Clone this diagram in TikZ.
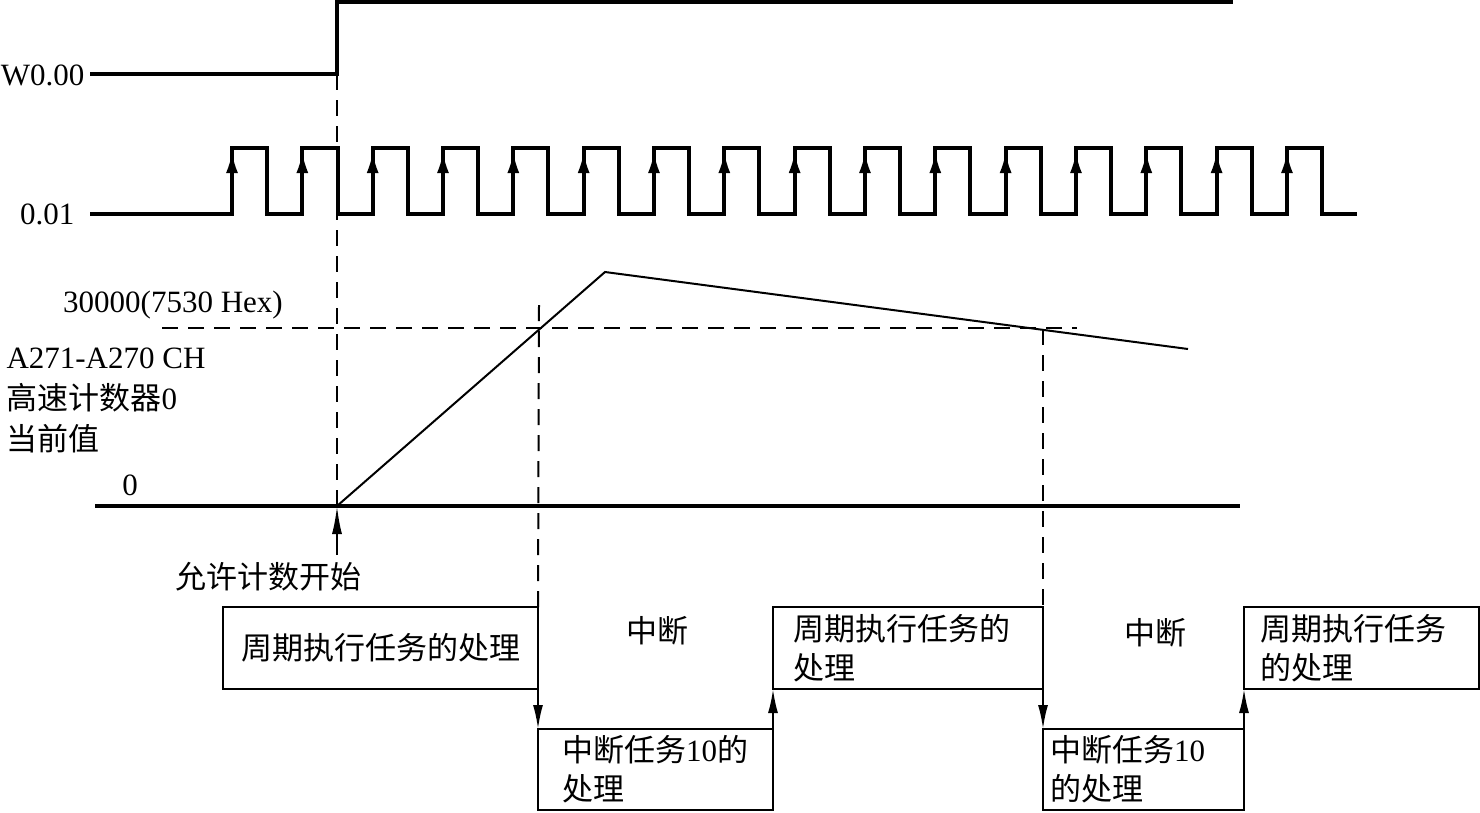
\documentclass[tikz,border=0pt]{standalone}
\usepackage{tikz}
\usetikzlibrary{arrows.meta}
\usepackage{fontspec}
\setmainfont{Liberation Serif}
\newfontfamily\cjk{Noto Sans CJK SC}

\begin{document}
\begin{tikzpicture}[x=1pt, y=-1pt,
    font=\fontsize{31}{38}\selectfont,
    zh/.style={font=\cjk\fontsize{31}{39}\selectfont},
    wave/.style={line width=4pt},
    guide/.style={line width=2pt, dash pattern=on 16pt off 10pt},
    pulsetip/.style={-{Latex[length=20pt,width=12pt]}, line width=2pt},
    flowtip/.style={-{Latex[length=24pt,width=10pt]}, line width=2pt},
    taskbox/.style={draw, line width=2.5pt, anchor=north west, align=left,
                    inner ysep=0pt, outer sep=0pt, zh}]
  \useasboundingbox (0,0) rectangle (1480,812);

  % signal names
  \node[anchor=east] (lw) at (88,75) {W0.00};
  \node[anchor=east] (lp) at (78,214) {0.01};

  % W0.00 and the 0.01 pulses
  \draw[wave] (90,74) -- (337,74) -- (337,2) -- (1233,2);
  \draw[wave] (90,214) -- (232,214)
    \foreach \k in {1,...,16} { -- ++(0,-66) -- ++(35.17,0) -- ++(0,66) -- ++(35.16,0) };
  \foreach \k in {0,...,15}
    \draw[pulsetip] ({232+70.33*\k},214) -- ++(0,-61);

  % counter value
  \coordinate (start) at (337,506);
  \coordinate (peak) at (605,272);
  \coordinate (tail) at (1188,349);
  \draw[wave] (95,506) -- (1240,506);
  \draw[line width=2pt] (start) -- (peak) -- (tail);

  \node (l30k) at (173,305) {30000(7530 Hex)};
  \node[anchor=west, align=left, font=\fontsize{31}{41}\selectfont] (lcv) at (3,400)
    {A271-A270 CH\\{\cjk 高速计数器}0\\{\cjk 当前值}};
  \node (l0) at (130,485) {0};

  \coordinate (lvl0) at (162,328);
  \coordinate (lvl1) at (1077,328);
  \draw[guide] (lvl0) -- (lvl1);

  % start of counting
  \coordinate (rise) at (337,74);
  \draw[guide] (rise) -- (start);
  \node[zh] (go) at (268,577) {允许计数开始};
  \coordinate (gofoot) at (337,555);
  \draw[-{Latex[length=28pt,width=10pt]}, line width=2pt] (gofoot) -- (start);

  % task boxes
  \node[taskbox, align=center, inner xsep=8pt, text width=299pt, minimum height=82pt] (t1) at (223,607) {周期执行任务的处理};
  \node[taskbox, inner xsep=24pt, text width=187pt, minimum height=81pt] (t2) at (538,729) {中断任务{\rmfamily 10}的\\处理};
  \node[taskbox, inner xsep=20pt, text width=230pt, minimum height=82pt] (t3) at (773,607) {周期执行任务的\\处理};
  \node[taskbox, inner xsep=7pt, text width=187pt, minimum height=81pt] (t4) at (1043,729) {中断任务{\rmfamily 10}\\的处理};
  \node[taskbox, inner xsep=16pt, text width=203pt, minimum height=82pt] (t5) at (1244,607) {周期执行任务\\的处理};

  \node[zh] (int1) at (657,631) {中断};
  \node[zh] (int2) at (1155,633) {中断};

  % guides and arrows
  \coordinate (hit1) at (539,305);
  \coordinate (hit2) at (1043,329);
  \draw[guide] (hit1) -- (t1.north east);
  \draw[guide] (hit2) -- (t3.north east);
  \draw[flowtip] (t1.north east) -- (t2.north west);
  \draw[flowtip] (t2.north east) -- (t3.south west);
  \draw[flowtip] (t3.north east) -- (t4.north west);
  \draw[flowtip] (t4.north east) -- (t5.south west);
\end{tikzpicture}
\end{document}
